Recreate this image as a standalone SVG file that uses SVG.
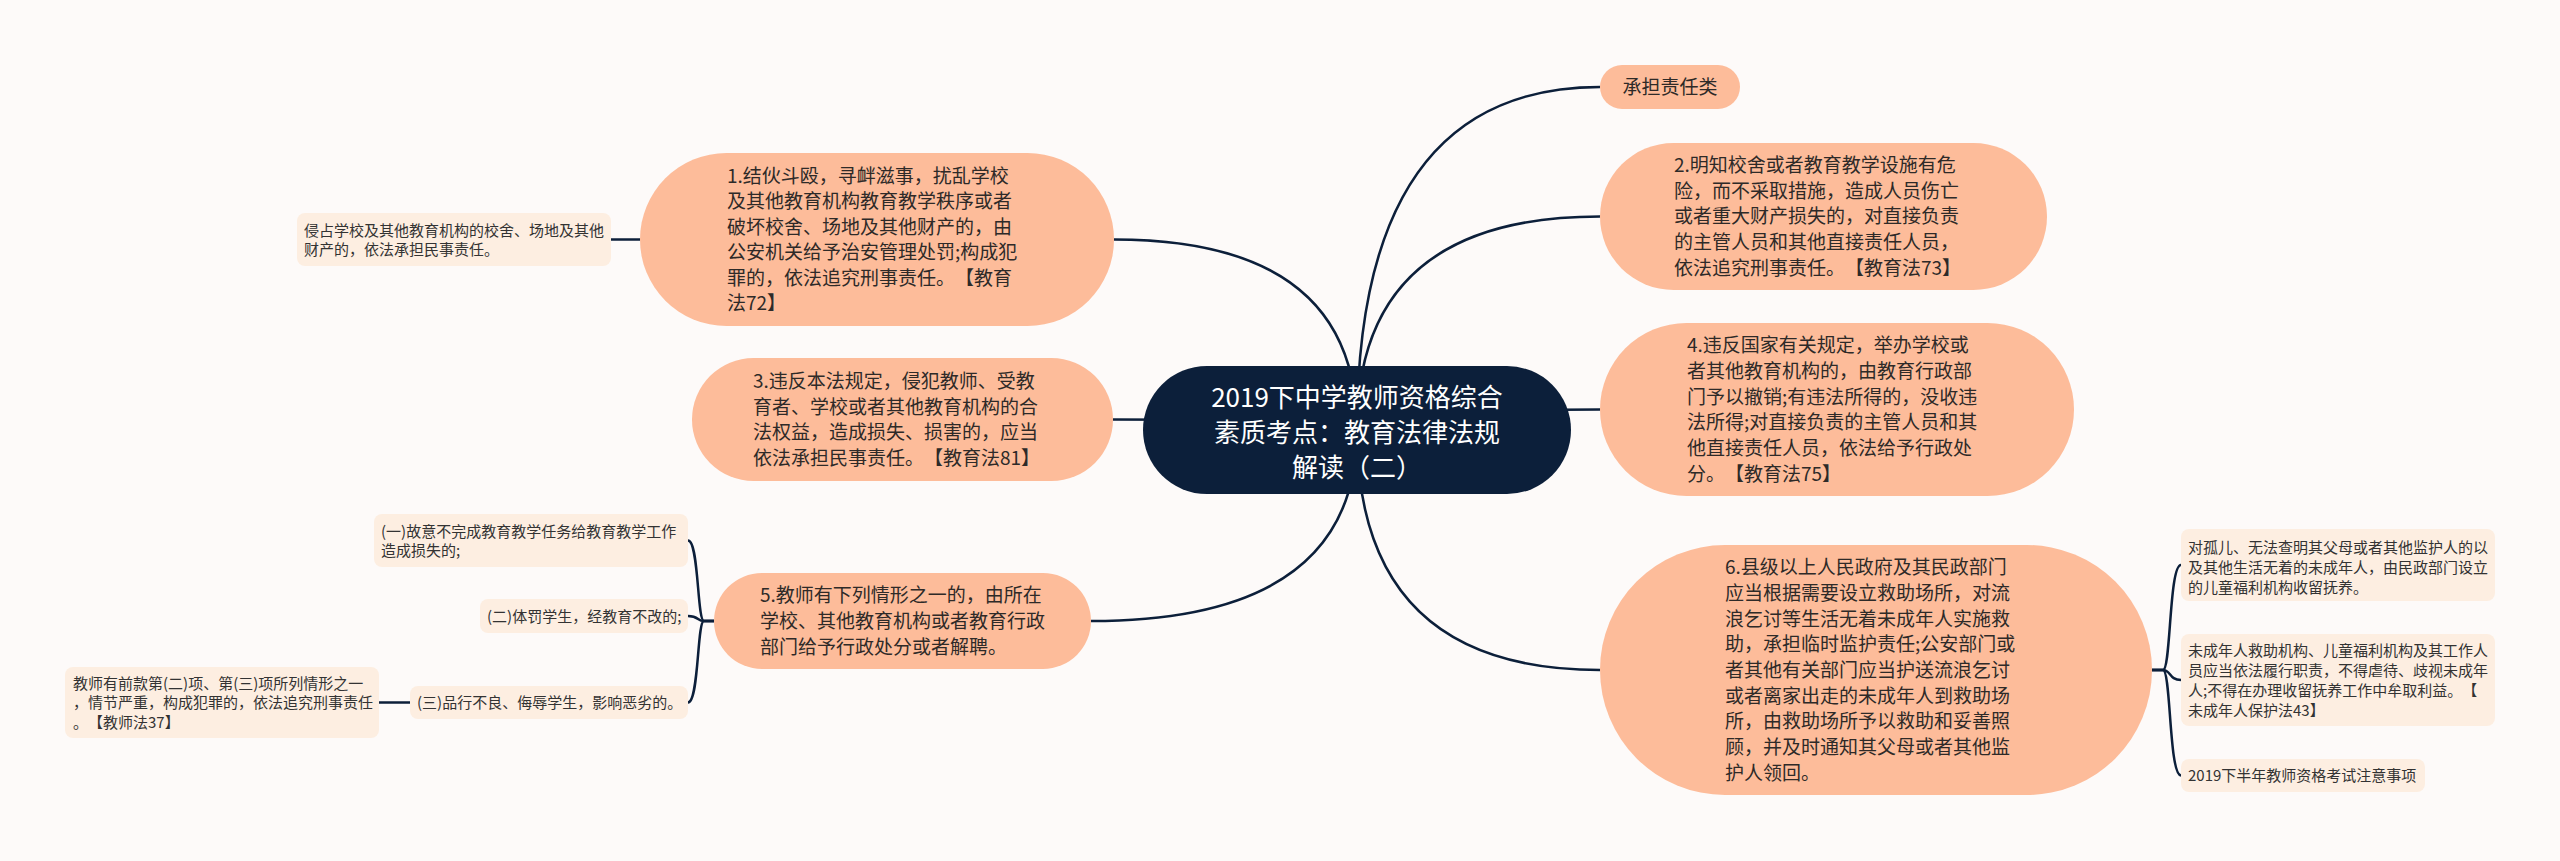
<svg xmlns="http://www.w3.org/2000/svg" width="2560" height="861" viewBox="0 0 2560 861">
<style>
.bg{fill:#fdfaf9}
.node{fill:#fdbc9a}
.leaf{fill:#fdeee1}
.root{fill:#0c1f3a}
text{text-spacing-trim:space-all}
.t{font-family:"Noto Sans CJK SC","Noto Sans",sans-serif;font-size:19px;fill:#2e2a28}
.lt{font-family:"Noto Sans CJK SC","Noto Sans",sans-serif;font-size:15px;fill:#333}
.rt{font-family:"Noto Sans CJK SC","Noto Sans",sans-serif;font-size:26px;fill:#ffffff;text-anchor:middle}
.conn{fill:none;stroke:#0c1f3a;stroke-width:2.5}
</style>
<rect class="bg" x="0" y="0" width="2560" height="861"/>
<g id="connectors">
<path class="conn" d="M1357 430 Q1357 87 1600 87"/>
<path class="conn" d="M1357 430 Q1357 216.5 1600 216.5"/>
<path class="conn" d="M1357 430 Q1357 409.5 1600 409.5"/>
<path class="conn" d="M1357 430 Q1357 670 1600 670"/>
<path class="conn" d="M1357 430 Q1357 239.5 1114 239.5"/>
<path class="conn" d="M1357 430 Q1357 419.5 1113 419.5"/>
<path class="conn" d="M1357 430 Q1357 621 1091 621"/>
<path class="conn" d="M640 239.5 L611 239.5"/>
<path class="conn" d="M714 621 L704 621 C697 621 699 540.5 688 540.5"/>
<path class="conn" d="M714 621 L704 621 C697 621 699 616 688 616"/>
<path class="conn" d="M714 621 L704 621 C697 621 699 702.5 688 702.5"/>
<path class="conn" d="M410 702.5 L379 702.5"/>
<path class="conn" d="M2152 670 L2163 670 C2171 670 2169 565 2181 565"/>
<path class="conn" d="M2152 670 L2163 670 C2171 670 2169 680 2181 680"/>
<path class="conn" d="M2152 670 L2163 670 C2171 670 2169 775.5 2181 775.5"/>
</g>
<g id="root">
<rect class="root" x="1143" y="366" width="428" height="128" rx="64"/>
<text class="rt" x="1357" y="407">2019下中学教师资格综合</text>
<text class="rt" x="1357" y="442">素质考点：教育法律法规</text>
<text class="rt" x="1357" y="477">解读（二）</text>
</g>
<g id="n-category">
<rect class="node" x="1600" y="65" width="140" height="44" rx="22"/>
<text class="t" x="1670" y="94" text-anchor="middle">承担责任类</text>
</g>
<g id="n2">
<rect class="node" x="1600" y="143" width="447" height="147" rx="73.5"/>
<text class="t" x="1674" y="172">2.明知校舍或者教育教学设施有危</text>
<text class="t" x="1674" y="197.7">险，而不采取措施，造成人员伤亡</text>
<text class="t" x="1674" y="223.4">或者重大财产损失的，对直接负责</text>
<text class="t" x="1674" y="249">的主管人员和其他直接责任人员，</text>
<text class="t" x="1674" y="274.8">依法追究刑事责任。【教育法73】</text>
</g>
<g id="n4">
<rect class="node" x="1600" y="323" width="474" height="173" rx="86.5"/>
<text class="t" x="1687" y="352">4.违反国家有关规定，举办学校或</text>
<text class="t" x="1687" y="378">者其他教育机构的，由教育行政部</text>
<text class="t" x="1687" y="403.6">门予以撤销;有违法所得的，没收违</text>
<text class="t" x="1687" y="429.3">法所得;对直接负责的主管人员和其</text>
<text class="t" x="1687" y="455">他直接责任人员，依法给予行政处</text>
<text class="t" x="1687" y="480.7">分。【教育法75】</text>
</g>
<g id="n6">
<rect class="node" x="1600" y="545" width="552" height="250" rx="125"/>
<text class="t" x="1725" y="574.2">6.县级以上人民政府及其民政部门</text>
<text class="t" x="1725" y="599.9">应当根据需要设立救助场所，对流</text>
<text class="t" x="1725" y="625.6">浪乞讨等生活无着未成年人实施救</text>
<text class="t" x="1725" y="651.3">助，承担临时监护责任;公安部门或</text>
<text class="t" x="1725" y="677">者其他有关部门应当护送流浪乞讨</text>
<text class="t" x="1725" y="702.7">或者离家出走的未成年人到救助场</text>
<text class="t" x="1725" y="728.4">所，由救助场所予以救助和妥善照</text>
<text class="t" x="1725" y="754.1">顾，并及时通知其父母或者其他监</text>
<text class="t" x="1725" y="779.8">护人领回。</text>
</g>
<g id="n6a">
<rect class="leaf" x="2181" y="529" width="314" height="72" rx="8"/>
<text class="lt" x="2188" y="552.7">对孤儿、无法查明其父母或者其他监护人的以</text>
<text class="lt" x="2188" y="572.7">及其他生活无着的未成年人，由民政部门设立</text>
<text class="lt" x="2188" y="592.7">的儿童福利机构收留抚养。</text>
</g>
<g id="n6b">
<rect class="leaf" x="2181" y="634" width="314" height="92" rx="8"/>
<text class="lt" x="2188" y="655.7">未成年人救助机构、儿童福利机构及其工作人</text>
<text class="lt" x="2188" y="675.7">员应当依法履行职责，不得虐待、歧视未成年</text>
<text class="lt" x="2188" y="695.7">人;不得在办理收留抚养工作中牟取利益。【</text>
<text class="lt" x="2188" y="715.7">未成年人保护法43】</text>
</g>
<g id="n6c">
<rect class="leaf" x="2181" y="759" width="244" height="33" rx="8"/>
<text class="lt" x="2188" y="781">2019下半年教师资格考试注意事项</text>
</g>
<g id="n1">
<rect class="node" x="640" y="153" width="474" height="173" rx="86.5"/>
<text class="t" x="727" y="182.5">1.结伙斗殴，寻衅滋事，扰乱学校</text>
<text class="t" x="727" y="208">及其他教育机构教育教学秩序或者</text>
<text class="t" x="727" y="233.5">破坏校舍、场地及其他财产的，由</text>
<text class="t" x="727" y="259">公安机关给予治安管理处罚;构成犯</text>
<text class="t" x="727" y="284.5">罪的，依法追究刑事责任。【教育</text>
<text class="t" x="727" y="310">法72】</text>
</g>
<g id="n1a">
<rect class="leaf" x="297" y="213" width="314" height="53" rx="8"/>
<text class="lt" x="304" y="235.7">侵占学校及其他教育机构的校舍、场地及其他</text>
<text class="lt" x="304" y="254.7">财产的，依法承担民事责任。</text>
</g>
<g id="n3">
<rect class="node" x="692" y="358" width="421" height="123" rx="61.5"/>
<text class="t" x="753" y="388">3.违反本法规定，侵犯教师、受教</text>
<text class="t" x="753" y="413.7">育者、学校或者其他教育机构的合</text>
<text class="t" x="753" y="439.3">法权益，造成损失、损害的，应当</text>
<text class="t" x="753" y="465">依法承担民事责任。【教育法81】</text>
</g>
<g id="n5">
<rect class="node" x="714" y="573" width="377" height="96" rx="48"/>
<text class="t" x="760" y="602.3">5.教师有下列情形之一的，由所在</text>
<text class="t" x="760" y="628">学校、其他教育机构或者教育行政</text>
<text class="t" x="760" y="653.7">部门给予行政处分或者解聘。</text>
</g>
<g id="n5a">
<rect class="leaf" x="374" y="514" width="314" height="53" rx="8"/>
<text class="lt" x="381" y="537">(一)故意不完成教育教学任务给教育教学工作</text>
<text class="lt" x="381" y="556">造成损失的;</text>
</g>
<g id="n5b">
<rect class="leaf" x="480" y="599" width="208" height="34" rx="8"/>
<text class="lt" x="487" y="621.7">(二)体罚学生，经教育不改的;</text>
</g>
<g id="n5c">
<rect class="leaf" x="410" y="686" width="278" height="33" rx="8"/>
<text class="lt" x="417" y="708">(三)品行不良、侮辱学生，影响恶劣的。</text>
</g>
<g id="n5c1">
<rect class="leaf" x="65" y="667" width="314" height="71" rx="8"/>
<text class="lt" x="73" y="688.7">教师有前款第(二)项、第(三)项所列情形之一</text>
<text class="lt" x="73" y="708.2">，情节严重，构成犯罪的，依法追究刑事责任</text>
<text class="lt" x="73" y="727.7">。【教师法37】</text>
</g>
</svg>
